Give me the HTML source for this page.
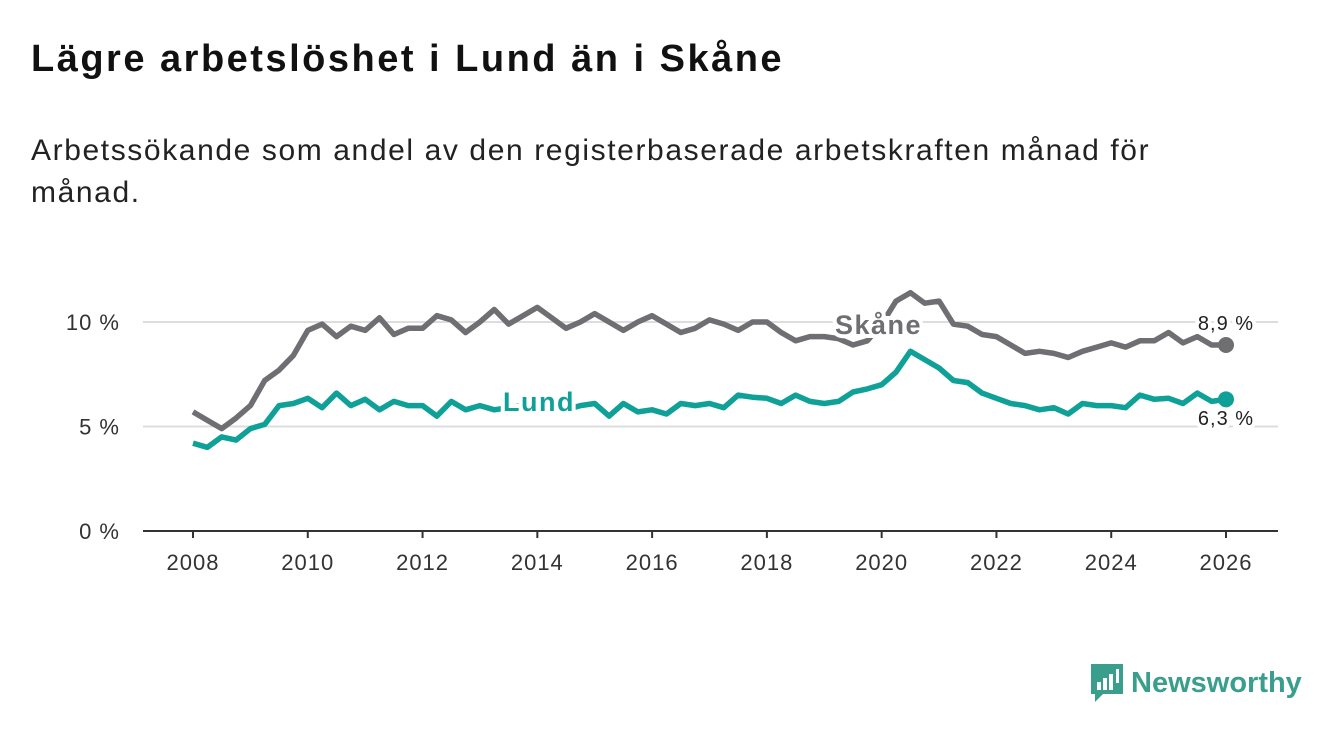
<!DOCTYPE html>
<html><head><meta charset="utf-8"><style>
body{margin:0;width:1340px;height:734px;background:#fff;font-family:"Liberation Sans",sans-serif;overflow:hidden;position:relative}
h1{position:absolute;left:31px;top:38px;margin:0;font-size:38px;letter-spacing:2.5px;font-weight:bold;color:#111}
p{position:absolute;left:31px;top:130px;margin:0;font-size:30px;letter-spacing:1.6px;line-height:42px;color:#222;width:1200px}
</style></head><body>
<h1>Lägre arbetslöshet i Lund än i Skåne</h1>
<p>Arbetssökande som andel av den registerbaserade arbetskraften månad för månad.</p>
<svg id="chart" width="1340" height="734" style="position:absolute;left:0;top:0"></svg>
<div style="position:absolute;left:1089px;top:662px;display:flex;align-items:center">
<svg width="36" height="42"><path d="M2 2h32v30H14l-8 8v-8H2z" fill="#3a9e8d"/><rect x="8" y="20" width="4" height="8" fill="#fff"/><rect x="14" y="16" width="4" height="12" fill="#fff"/><rect x="20" y="12" width="4" height="16" fill="#fff"/><rect x="27" y="7" width="3" height="14" fill="#fff"/></svg>
<span style="margin-left:6px;font-size:29px;font-weight:bold;color:#3a9e8d">Newsworthy</span></div>
<script>
const years=[2008,2010,2012,2014,2016,2018,2020,2022,2024,2026];
const yTicks=[0,5,10];
const startYear=2008;
const skane=[5.7,5.3,4.9,5.4,6.0,7.2,7.7,8.4,9.6,9.9,9.3,9.8,9.6,10.2,9.4,9.7,9.7,10.3,10.1,9.5,10.0,10.6,9.9,10.3,10.7,10.2,9.7,10.0,10.4,10.0,9.6,10.0,10.3,9.9,9.5,9.7,10.1,9.9,9.6,10.0,10.0,9.5,9.1,9.3,9.3,9.2,8.9,9.1,9.9,11.0,11.4,10.9,11.0,9.9,9.8,9.4,9.3,8.9,8.5,8.6,8.5,8.3,8.6,8.8,9.0,8.8,9.1,9.1,9.5,9.0,9.3,8.9,8.9];
const lund=[4.2,4.0,4.5,4.35,4.9,5.1,6.0,6.1,6.35,5.9,6.6,6.0,6.3,5.8,6.2,6.0,6.0,5.5,6.2,5.8,6.0,5.8,5.9,6.0,6.0,5.9,5.8,6.0,6.1,5.5,6.1,5.7,5.8,5.6,6.1,6.0,6.1,5.9,6.5,6.4,6.35,6.1,6.5,6.2,6.1,6.2,6.65,6.8,7.0,7.6,8.6,8.2,7.8,7.2,7.1,6.6,6.35,6.1,6.0,5.8,5.9,5.6,6.1,6.0,6.0,5.9,6.5,6.3,6.35,6.1,6.6,6.2,6.3];
const NS="http://www.w3.org/2000/svg";
const svg=document.getElementById('chart');
const X=y=>193+(y-2008)*(1226-193)/18;
const Y=v=>531-v*20.9;
function el(t,a,p){const e=document.createElementNS(NS,t);for(const k in a)e.setAttribute(k,a[k]);(p||svg).appendChild(e);return e;}
yTicks.forEach(v=>{
  if(v>0){const g=el('line',{x1:143,x2:1278,y1:Y(v),y2:Y(v),stroke:'#ddd','stroke-width':2});
  
  }
  const t=el('text',{x:120,y:Y(v)+8,'text-anchor':'end','font-size':22,'letter-spacing':1,fill:'#333','font-family':'Liberation Sans,sans-serif'});
  t.textContent=v+' %';
  
  
});
const ax=el('line',{x1:143,x2:1278,y1:531,y2:531,stroke:'#333','stroke-width':2});


years.forEach(yr=>{
  el('line',{x1:X(yr),x2:X(yr),y1:531,y2:538,stroke:'#333','stroke-width':2});
  const t=el('text',{x:X(yr),y:570,'text-anchor':'middle','font-size':22,'letter-spacing':1,fill:'#333','font-family':'Liberation Sans,sans-serif'});
  t.textContent=yr;
  
  
});
function line(data,color,name){
  const d=data.map((v,i)=>(i?'L':'M')+X(startYear+i*0.25).toFixed(1)+' '+Y(v).toFixed(1)).join(' ');
  const p=el('path',{d:d,fill:'none',stroke:color,'stroke-width':5.5,'stroke-linejoin':'round'});
  
  
  const c=el('circle',{cx:X(startYear+(data.length-1)*0.25),cy:Y(data[data.length-1]),r:8,fill:color});
  
  
}
line(skane,'#6e6e73','skane');
line(lund,'#0fa197','lund');
function label(txt,x,y,color,size,weight,name,anchor,ls){
  const a={x:x,y:y,'font-size':size,'font-weight':weight,fill:color,'font-family':'Liberation Sans,sans-serif','text-anchor':anchor||'start','letter-spacing':ls||0,stroke:'#fff','stroke-width':8,'paint-order':'stroke'};
  const t=el('text',a);t.textContent=txt;
  
  
}
label('Skåne',835,334,'#6e6e73',27,'bold','skane-label','start',1.5);
label('Lund',503,411,'#0fa197',27,'bold','lund-label','start',1.5);
label(String(skane[skane.length-1]).replace('.',',')+' %',1226,330,'#222',20,'normal','skane-value-label','middle',1);
label(String(lund[lund.length-1]).replace('.',',')+' %',1226,425,'#222',20,'normal','lund-value-label','middle',1);
</script>
</body></html>
